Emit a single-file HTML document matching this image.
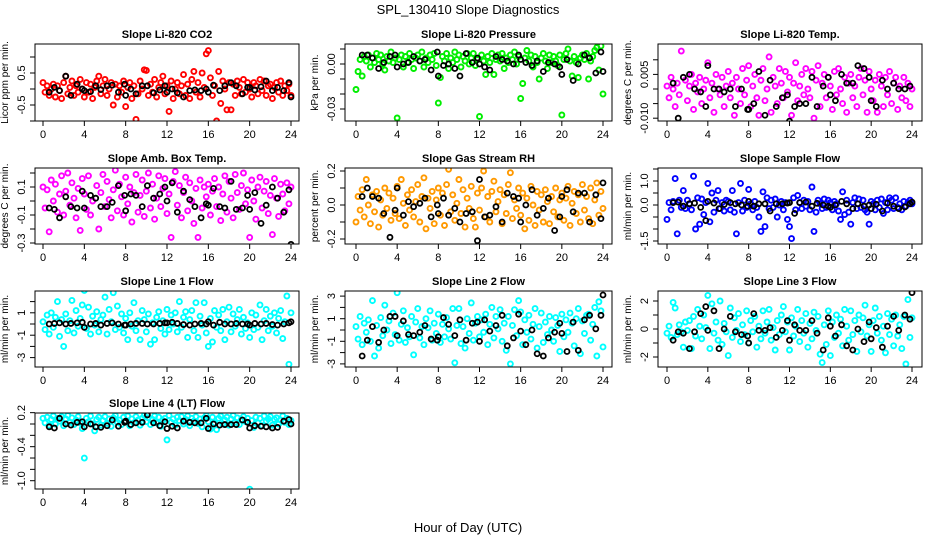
<!DOCTYPE html>
<html><head><meta charset="utf-8">
<style>
html,body{margin:0;padding:0;background:#fff;}
svg{display:block;font-family:"Liberation Sans",sans-serif;}
</style></head>
<body>
<svg id="chart" width="936" height="540" viewBox="0 0 936 540" xmlns="http://www.w3.org/2000/svg">
<rect x="0" y="0" width="936" height="540" fill="#fff"/>
<text x="468" y="14" text-anchor="middle" font-size="13">SPL_130410  Slope Diagnostics</text>
<text x="468" y="532" text-anchor="middle" font-size="13">Hour of Day (UTC)</text>
</svg>
<script>
const hours = [0,0.2,0.4,0.6,0.8,1,1.2,1.4,1.6,1.8,2,2.2,2.4,2.6,2.8,3,3.2,3.4,3.6,3.8,4,4.2,4.4,4.6,4.8,5,5.2,5.4,5.6,5.8,6,6.2,6.4,6.6,6.8,7,7.2,7.4,7.6,7.8,8,8.2,8.4,8.6,8.8,9,9.2,9.4,9.6,9.8,10,10.2,10.4,10.6,10.8,11,11.2,11.4,11.6,11.8,12,12.2,12.4,12.6,12.8,13,13.2,13.4,13.6,13.8,14,14.2,14.4,14.6,14.8,15,15.2,15.4,15.6,15.8,16,16.2,16.4,16.6,16.8,17,17.2,17.4,17.6,17.8,18,18.2,18.4,18.6,18.8,19,19.2,19.4,19.6,19.8,20,20.2,20.4,20.6,20.8,21,21.2,21.4,21.6,21.8,22,22.2,22.4,22.6,22.8,23,23.2,23.4,23.6,23.8,24];
const blackHours = [0.6,1.1,1.6,2.2,2.7,3.3,3.8,4.0,4.6,5.1,5.6,6.2,6.7,7.3,7.9,8.0,8.5,9.0,9.6,10.1,10.7,11.3,11.8,12.0,12.5,13.0,13.6,14.2,14.7,15.3,15.8,16.0,16.5,17.1,17.6,18.2,18.7,19.3,19.8,20.0,20.5,21.1,21.6,22.2,22.7,23.3,23.8,24.0];
const xTicks = [0,4,8,12,16,20,24];

const co2 = [0.2,-0.1,0.1,-0.2,0.0,0.15,-0.25,0.1,-0.05,-0.3, 0.2,0.4,-0.15,0.05,0.25,-0.2,0.1,-0.1,0.3,0.0, -0.25,0.2,-0.1,0.15,-0.3,0.05,0.25,0.4,-0.15,0.1, 0.3,-0.2,0.0,0.2,-0.5,0.15,-0.25,0.1,-0.1,0.25, -0.55,0.05,0.2,-0.3,0.1,-0.95,-0.15,0.25,0.0,0.6, 0.58,-0.2,0.15,-0.1,0.3,-0.25,0.05,0.2,0.4,-0.15, 0.1,-0.7,0.25,-0.3,0.0,0.2,-0.15,0.1,0.45,-0.2, 0.15,-0.3,0.3,0.55,-0.1,0.2,-0.25,0.5,0.05,1.1, 1.2,0.35,-0.2,0.1,-1.0,0.55,-0.45,0.25,0.0,-0.65, 0.2,-0.65,0.15,-0.2,0.25,0.05,-0.15,0.3,-0.1,0.2, 0.0,-0.25,0.2,0.1,-0.15,0.3,-0.05,0.25,-0.2,0.1, 0.15,-0.3,0.05,0.2,-0.1,0.25,-0.2,0.1,-0.05,0.15,-0.2];
const co2Black = [-0.1,0.05,-0.05,0.4,-0.2,0.15,0.0,-0.05,-0.08,0.1,-0.02,0.1,0.12,-0.1,0.15,-0.2,0.0,-0.15,0.1,0.1,-0.12,-0.03,0.1,-0.1,0.0,-0.12,-0.25,-0.05,-0.03,-0.05,0.0,-0.1,0.12,-0.05,0.1,0.2,0.1,-0.15,0.05,0.05,-0.03,0.07,0.25,-0.05,0.05,-0.05,0.2,-0.25];

const pres = [-0.017,-0.005,0.003,-0.008,0.005,0.002,0.006,-0.002,0.004,0.001, 0.007,0.003,0.006,0.0,-0.004,0.005,0.002,0.008,0.001,0.004, -0.036,0.003,0.006,-0.002,0.005,0.001,0.007,0.003,-0.003,0.004, 0.006,0.002,0.008,-0.002,0.004,0.001,0.006,0.003,0.007,-0.001, -0.026,-0.009,0.005,0.002,0.007,-0.003,0.004,0.001,0.008,0.003, 0.006,-0.002,0.005,0.002,0.007,0.0,0.004,0.007,-0.001,0.003, -0.035,0.006,0.002,-0.007,0.005,0.001,0.007,-0.007,0.003,0.006, 0.002,0.007,-0.003,0.004,0.001,0.006,0.003,0.008,0.0,0.005, -0.023,-0.013,0.004,0.009,0.002,0.006,-0.002,0.005,0.001,-0.01, 0.004,0.007,0.002,-0.003,0.006,0.001,0.005,0.002,-0.001,0.006, -0.034,0.003,0.007,0.01,0.002,-0.008,0.005,0.001,-0.009,0.004, 0.006,0.003,0.007,-0.01,0.002,0.005,0.009,0.011,-0.004,0.012,-0.02];
const presBlack = [0.006,0.006,0.004,-0.003,0.001,0.005,0.006,-0.002,0.0,0.001,0.005,0.002,0.003,-0.004,0.008,-0.008,-0.001,0.0,-0.003,-0.008,0.007,0.001,0.004,0.0,-0.002,-0.004,0.005,0.003,0.002,0.0,0.006,0.003,0.001,-0.001,0.002,-0.005,0.001,0.0,-0.002,-0.007,0.003,-0.011,0.0,0.006,0.004,-0.006,0.008,-0.005];

const tmp = [0.001,-0.003,0.004,0.0,-0.006,0.002,-0.002,0.013,-0.012,0.003, -0.004,0.001,0.005,-0.007,0.002,-0.001,0.004,-0.005,0.0,0.003, 0.009,-0.003,0.002,-0.008,0.005,0.0,-0.002,0.004,-0.006,0.001, 0.006,-0.003,0.002,-0.009,0.004,0.0,-0.005,0.007,-0.002,0.003, 0.008,-0.006,0.001,0.005,-0.003,-0.009,0.003,0.007,-0.004,0.0, 0.011,-0.008,0.004,0.001,-0.005,0.007,0.002,-0.003,0.006,-0.001, 0.004,-0.009,0.002,0.009,-0.004,0.001,0.005,-0.002,0.007,0.0, -0.003,0.006,-0.01,0.003,0.008,-0.006,0.002,0.005,-0.003,0.004, 0.001,-0.007,0.006,-0.002,0.007,0.0,-0.005,0.004,-0.008,0.002, 0.005,-0.003,0.001,-0.006,0.004,0.007,-0.002,0.003,-0.008,0.006, 0.0,-0.004,0.003,-0.008,0.005,0.001,-0.006,0.004,-0.002,0.006, -0.005,0.002,0.004,-0.007,0.001,-0.003,0.004,-0.004,0.002,-0.006,0.0];
const tmpBlack = [0.002,-0.01,0.004,0.005,0.0,-0.001,-0.006,0.008,0.0,0.0,-0.001,0.0,-0.006,0.0,-0.007,-0.007,-0.005,0.006,-0.009,0.003,-0.006,-0.003,-0.002,-0.011,-0.006,-0.005,-0.005,0.004,-0.006,0.001,0.004,-0.002,-0.004,0.005,0.002,0.002,0.008,0.007,0.004,-0.004,-0.006,0.003,0.0,0.002,0.0,0.0,0.001,-0.012];

const box = [0.1,-0.05,0.08,-0.22,0.15,0.0,0.12,-0.08,0.05,0.18, -0.1,0.07,0.2,-0.03,0.13,0.02,-0.12,0.09,-0.21,0.16, 0.05,-0.06,0.18,-0.1,0.0,-0.33,0.11,-0.2,0.06,0.19, -0.04,0.14,0.01,-0.12,0.08,0.22,-0.07,0.12,0.03,-0.1, 0.17,-0.02,0.1,-0.15,0.06,0.19,-0.08,0.04,0.15,-0.11, 0.07,0.2,-0.05,0.12,-0.13,0.02,0.18,-0.04,0.09,0.16, -0.09,0.05,-0.26,0.14,0.21,-0.03,0.11,-0.12,0.06,0.17, -0.07,0.13,0.0,-0.16,0.09,-0.26,0.15,-0.05,0.1,0.03, 0.12,-0.1,0.07,0.16,-0.04,0.1,-0.14,0.05,0.18,-0.08, 0.14,0.02,-0.12,0.19,0.06,-0.06,0.11,0.2,-0.02,0.08, -0.26,0.15,0.0,-0.13,0.1,0.17,-0.05,0.07,0.14,-0.09, 0.04,-0.24,0.16,0.02,-0.11,0.12,0.05,-0.07,0.13,-0.02,0.1];
const boxBlack = [-0.05,-0.06,-0.12,0.03,-0.04,-0.05,0.07,-0.05,0.04,0.02,-0.04,-0.04,-0.01,0.11,0.04,-0.07,0.05,0.04,-0.04,0.11,0.02,0.05,0.1,0.0,0.13,-0.08,0.07,0.01,-0.04,-0.12,-0.02,-0.03,0.09,-0.04,-0.05,0.14,-0.06,-0.05,0.04,-0.06,0.06,-0.16,-0.03,0.1,0.02,-0.08,0.08,-0.31];

const rh = [-0.1,0.05,-0.03,0.09,-0.07,0.15,0.0,-0.11,0.06,-0.04, 0.08,-0.13,0.03,-0.06,0.1,-0.02,0.07,-0.09,0.04,-0.05, 0.11,-0.08,0.15,0.01,-0.12,0.06,-0.03,0.09,-0.07,0.02, 0.12,-0.1,0.05,0.16,-0.14,0.04,-0.02,0.08,-0.11,0.03, 0.1,-0.06,0.07,-0.12,0.12,0.21,-0.04,0.06,-0.09,0.01, 0.15,-0.05,0.09,-0.13,0.04,-0.02,0.11,-0.08,-0.13,0.07, -0.03,0.1,0.2,-0.07,0.05,-0.1,0.08,0.14,-0.04,0.02, 0.09,-0.11,0.06,-0.05,0.12,0.19,-0.08,0.03,-0.02,0.1, -0.06,0.07,-0.14,0.04,-0.09,0.11,0.0,-0.12,0.08,-0.03, 0.06,-0.1,0.09,0.02,-0.11,0.05,-0.04,0.1,-0.07,0.03, 0.07,-0.09,0.04,0.11,-0.12,0.01,0.08,-0.05,0.06,-0.1, 0.12,-0.03,0.05,-0.08,0.1,-0.11,0.03,0.13,-0.06,0.08,-0.02];
const rhBlack = [0.05,0.1,0.05,0.04,-0.05,-0.19,-0.03,0.1,-0.06,0.02,-0.01,0.01,0.04,-0.07,0.0,-0.05,0.04,-0.06,-0.02,-0.1,-0.05,-0.04,-0.21,0.15,-0.07,-0.06,-0.01,-0.1,0.07,0.05,0.04,-0.1,0.0,0.09,-0.06,-0.02,0.04,-0.15,-0.07,0.05,0.09,-0.04,0.07,0.07,-0.1,0.06,-0.08,0.13];

const samp = [-0.6,0.1,-0.2,0.15,1.1,-1.2,0.2,-0.1,0.6,-0.15, 0.2,0.05,-0.2,1.2,-1.0,0.3,-0.8,0.25,-0.4,0.1, 0.9,-0.7,0.5,-0.3,0.2,0.6,-0.15,0.1,-0.25,0.2, 0.15,-0.2,0.6,-0.3,-1.2,0.1,0.9,-0.25,0.2,-0.1, 0.65,0.05,-0.2,0.15,-0.1,-0.5,-1.1,0.55,-0.9,0.3, -0.15,0.2,-0.1,0.25,-0.5,0.0,0.15,-0.2,0.1,-0.6, -0.9,-1.4,0.3,-0.2,0.4,0.1,-0.15,0.2,-0.05,0.15, -0.2,0.75,-1.1,-0.3,0.2,0.05,-0.15,0.25,-0.1,0.2, 0.1,-0.2,0.15,0.05,-0.25,-0.6,0.55,-0.4,0.2,-0.3, -0.8,0.1,0.3,-0.15,0.25,-0.1,0.2,-0.2,-0.3,-0.8, 0.15,0.05,-0.2,0.2,-0.1,0.25,-0.35,0.1,-0.2,0.3, 0.2,-0.15,0.3,-0.1,0.05,-0.2,0.15,-0.05,0.1,0.2,0.05];
const sampBlack = [0.1,0.12,-0.05,0.05,0.08,-0.1,-0.65,0.15,0.08,-0.15,0.02,0.1,0.05,0.0,-0.05,0.15,-0.05,0.05,0.05,-0.25,0.05,0.05,0.08,0.1,-0.35,0.1,0.12,-0.05,0.07,0.0,-0.05,-0.1,0.0,0.15,0.05,-0.15,0.05,-0.05,0.0,-0.15,0.03,-0.25,0.08,-0.05,-0.15,-0.08,0.05,0.12];

const line1 = [0.2,-0.5,0.8,-0.9,1.0,-0.3,0.6,2.0,-1.1,0.4, -2.0,0.9,-0.6,0.3,2.1,-0.8,1.2,-0.2,0.5,1.7, 3.0,-0.4,1.5,-0.9,0.7,-0.1,1.1,-0.7,0.4,0.8, 2.4,-0.9,1.3,0.2,2.8,-0.5,1.6,-0.3,0.9,-0.8, 0.5,-1.4,1.0,-0.2,1.9,-0.6,0.3,-1.4,1.2,0.4, -0.7,0.9,-1.8,0.1,-1.4,0.6,1.1,-0.4,0.3,-0.9, 1.3,-0.5,0.8,0.0,1.0,-0.7,2.0,-0.3,0.6,1.1, -1.2,0.4,1.2,-0.6,1.9,-1.2,0.7,-0.1,1.9,-0.8, -2.0,0.5,-1.6,1.2,-0.3,0.8,-0.6,1.3,-1.4,0.2, 1.5,-0.7,0.9,-0.2,0.4,1.3,-0.9,0.6,-0.4,0.1, -1.2,1.0,-0.5,0.8,-0.3,1.7,-1.4,0.3,1.3,-0.6, 0.7,-0.2,1.0,-0.8,0.5,1.2,-1.3,0.2,2.5,-3.6,1.0];
const line1Black = [0.0,0.05,0.1,0.0,0.05,0.1,0.15,-0.3,0.0,0.05,-0.1,0.05,0.1,0.0,-0.1,-0.1,0.0,0.05,0.05,0.0,0.0,0.05,0.1,0.1,0.15,0.05,-0.05,-0.1,0.0,0.05,0.0,0.2,-0.1,0.15,0.0,0.0,0.05,0.0,0.0,-0.1,0.05,0.0,0.05,-0.05,-0.1,0.0,0.1,0.2];

const line2 = [0.3,-0.8,1.2,-1.3,0.6,-0.2,0.9,-1.0,2.6,-2.3, 0.4,-1.6,1.1,-0.5,2.2,0.0,0.8,-1.2,1.5,-0.4, 3.3,-0.9,0.5,1.7,-1.1,0.2,-0.6,1.2,-2.2,0.7, 1.9,-0.7,0.3,-1.3,1.0,0.2,1.7,-0.9,0.6,-0.3, 1.4,-1.1,0.5,-0.6,1.1,0.1,-0.8,1.9,-2.9,0.4, 1.9,-1.2,0.3,-1.6,1.0,-0.3,2.4,-0.9,0.6,1.2, -0.6,0.9,-0.2,1.4,-1.3,0.5,2.0,-0.7,1.2,0.1, 1.8,-1.0,0.6,-1.8,1.2,-3.0,0.4,1.8,-0.5,2.6, 1.6,-1.3,0.9,-0.2,1.3,-0.8,0.5,1.9,-1.6,0.3, 1.5,-1.1,0.7,-0.4,1.2,0.0,-1.0,1.1,0.4,-1.9, 1.4,-0.6,0.9,-0.2,1.5,0.6,-1.4,1.0,1.9,-2.1, 0.8,-0.3,1.3,1.4,-0.9,0.5,2.0,-2.3,2.5,1.7,-1.5];
const line2Black = [-2.3,-0.9,0.3,-1.1,0.0,1.2,1.2,-0.5,0.8,-0.4,-0.5,-0.2,0.4,-0.8,-0.9,-0.6,1.1,0.5,-0.5,0.9,-0.9,0.6,0.7,-1.0,0.9,-0.1,0.4,1.3,-1.4,-0.7,1.4,-0.1,-1.3,0.0,-2.1,-2.3,-0.7,-0.2,0.6,-0.3,-1.9,0.7,-1.8,0.9,1.3,0.1,1.3,3.1];

const line3 = [-0.3,0.2,-0.6,1.9,1.5,-0.4,0.3,-0.2,-1.3,0.5, -0.1,0.6,-1.4,0.9,-0.5,1.4,0.2,-0.7,1.0,0.1, 2.4,-1.4,1.8,-0.3,0.5,-0.8,2.0,-1.1,0.4,-0.2, -1.9,1.5,-0.6,0.8,-0.1,1.1,-0.9,0.3,-0.4,1.3, -1.0,0.6,-0.2,0.9,-1.3,0.2,-0.7,1.3,-0.3,0.5, 1.4,-0.8,0.1,-1.5,0.6,-0.4,1.0,1.6,-0.2,0.5, -1.5,0.8,-0.5,0.2,1.4,-0.9,0.6,-0.3,1.1,-1.3, 0.4,-0.7,1.2,-0.1,0.9,-1.8,-2.4,0.3,-1.1,1.3, -1.9,0.5,-0.6,1.0,-0.3,0.7,-1.2,1.4,0.2,-0.8, 1.3,-0.4,0.6,-1.6,1.0,-0.2,0.8,1.7,-0.5,0.3, -1.6,0.6,1.5,-0.3,0.9,-0.8,0.2,-1.7,1.1,-0.4, 0.7,-1.2,1.0,-0.5,0.3,-1.4,0.9,-2.5,2.1,-0.6,0.8];
const line3Black = [-0.8,-0.2,-0.3,-1.4,-0.2,1.1,1.6,-0.1,1.3,-1.4,0.0,0.9,-0.2,-0.4,-0.5,-1.0,1.1,-0.1,-0.1,0.1,-0.6,-0.1,0.6,-0.8,0.3,-0.1,-0.1,0.6,-0.3,-1.5,0.8,0.2,-0.5,0.3,-1.2,-1.5,0.0,-0.9,0.5,-0.7,0.1,-1.3,0.2,0.9,-0.1,1.0,0.7,2.6];

const line4 = [0.1,0.02,0.12,-0.02,0.08,0.14,0.0,0.1,0.05,0.13, -0.03,0.09,0.15,0.03,0.11,-0.01,0.07,0.13,0.02,-0.08, -0.6,0.1,0.04,0.14,0.0,-0.12,0.08,0.12,-0.02,0.06, 0.13,0.01,0.09,-0.04,0.11,0.15,0.03,0.07,-0.01,0.12, 0.05,0.14,-0.03,0.09,0.02,0.13,0.07,-0.02,0.1,0.15, 0.04,0.11,-0.01,0.08,0.14,0.02,0.12,-0.04,0.06,0.1, -0.28,0.15,0.03,0.09,-0.02,0.12,0.06,0.13,0.0,0.08, 0.14,-0.03,0.1,0.05,0.13,0.01,0.09,-0.05,0.11,0.15, 0.04,-0.09,0.12,0.02,-0.1,0.1,0.14,0.0,0.07,0.12, -0.02,0.09,0.15,0.03,0.11,-0.01,0.08,0.13,0.04,0.1, -1.15,0.06,-0.06,0.12,0.02,0.1,-0.03,0.14,0.05,0.09, 0.13,-0.02,0.08,0.11,0.0,0.07,0.14,0.03,0.1,-0.01,0.06];
const line4Black = [-0.05,-0.07,0.1,0.0,-0.02,0.03,0.04,-0.05,0.0,-0.05,-0.06,-0.03,0.07,-0.04,0.03,0.05,-0.01,0.02,0.03,0.16,0.02,-0.03,0.04,-0.08,-0.04,-0.07,0.05,0.03,0.02,0.02,0.1,-0.08,0.0,-0.02,-0.01,-0.01,-0.01,0.07,0.03,-0.07,-0.03,-0.04,-0.05,-0.07,-0.06,0.05,0.08,0.0];

const titles = ["Slope Li-820 CO2","Slope Li-820 Pressure","Slope Li-820 Temp.","Slope Amb. Box Temp.","Slope Gas Stream RH","Slope Sample Flow","Slope Line 1 Flow","Slope Line 2 Flow","Slope Line 3 Flow","Slope Line 4 (LT) Flow"];
const yTitles = ["Licor ppm per min.","kPa per min.","degrees C per min.","degrees C per min.","percent per min.","ml/min per min.","ml/min per min.","ml/min per min.","ml/min per min.","ml/min per min."];
const yTickVals = [[1,0.5,0,-0.5,-1],[0.01,0,-0.01,-0.02,-0.03],[0.01,0.005,0,-0.005,-0.01],[0.2,0.1,0,-0.1,-0.2,-0.3],[0.2,0.1,0,-0.1,-0.2],[1.5,1,0.5,0,-0.5,-1,-1.5],[2,1,0,-1,-2,-3],[3,2,1,0,-1,-2,-3],[2,1,0,-1,-2],[0.2,0,-0.2,-0.4,-0.6,-0.8,-1.0]];
const yTickLabels = [["","0.5","","-0.5",""],["","0.00","","","-0.03"],["","0.005","","","-0.010"],["","0.1","","-0.1","","-0.3"],["0.2","","0.0","","-0.2"],["","1.0","","0.0","","","-1.5"],["","1","","-1","","-3"],["3","","1","","-1","","-3"],["2","","0","","-2"],["0.2","","","-0.4","","","-1.0"]];
const seriesList = [co2,pres,tmp,box,rh,samp,line1,line2,line3,line4];
const blackList = [co2Black,presBlack,tmpBlack,boxBlack,rhBlack,sampBlack,line1Black,line2Black,line3Black,line4Black];
const colors = ["#ff0000","#00ee00","#ff00ff","#ff00ff","#ff9900","#0000ff","#00ffff","#00ffff","#00ffff","#00ffff"];
const names = ["co2","pressure","li820-temp","box-temp","gas-rh","sample-flow","line1-flow","line2-flow","line3-flow","line4-flow"];

const colGeom = [{l:35,r:299,x0:43,x24:291},{l:345,r:612,x0:356,x24:603},{l:658,r:922,x0:667,x24:912}];
const rowGeom = [{t:44,b:121},{t:168,b:244},{t:291,b:367},{t:413,b:489}];
const yScale = [{z:89,k:32},{z:64,k:1500},{z:89,k:2920},{z:201,k:140},{z:205,k:170},{z:205,k:24},{z:324,k:11.2},{z:330,k:11.3},{z:329,k:14},{z:424,k:56.7}];

const NS = "http://www.w3.org/2000/svg";
const svg = document.getElementById("chart");
function mk(tag, attrs, parent){const e=document.createElementNS(NS,tag);for(const k in attrs)e.setAttribute(k,attrs[k]);(parent||svg).appendChild(e);return e;}

for (let p=0;p<10;p++){
  const c = colGeom[p%3], r = rowGeom[Math.floor(p/3)], ys = yScale[p];
  const xf = h => c.x0 + (c.x24-c.x0)*h/24;
  const yf = v => ys.z - v*ys.k;
  const g = mk("g",{});
  
  
  const clipId = "clip"+p;
  const cp = mk("clipPath",{id:clipId},g);
  mk("rect",{x:c.l,y:r.t,width:c.r-c.l,height:r.b-r.t},cp);
  const t = mk("text",{x:(c.l+c.r)/2,y:r.t-6,"text-anchor":"middle","font-size":"11","font-weight":"bold"},g);
  t.textContent = titles[p];
  
  
  const pg = mk("g",{"clip-path":"url(#"+clipId+")"},g);
  const ser = seriesList[p];
  for (let i=0;i<ser.length;i++){
    const pt = mk("circle",{cx:xf(hours[i]),cy:yf(ser[i]),r:2.5,fill:"none",stroke:colors[p],"stroke-width":1.9},pg);
    
    
  }
  const bl = blackList[p];
  for (let i=0;i<bl.length;i++){
    const pt = mk("circle",{cx:xf(blackHours[i]),cy:yf(bl[i]),r:2.5,fill:"none",stroke:"#000","stroke-width":1.8},pg);
    
    
  }
  const bx = mk("rect",{x:c.l,y:r.t,width:c.r-c.l,height:r.b-r.t,fill:"none",stroke:"#000","stroke-width":1},g);
  
  
  mk("line",{x1:xf(0),x2:xf(24),y1:r.b,y2:r.b,stroke:"#000"},g);
  for (const h of xTicks){
    mk("line",{x1:xf(h),x2:xf(h),y1:r.b,y2:r.b+5,stroke:"#000"},g);
    const lt = mk("text",{x:xf(h),y:r.b+17,"text-anchor":"middle","font-size":"11"},g);
    lt.textContent = String(h);
    
    
  }
  const tv = yTickVals[p], tl = yTickLabels[p];
  for (let i=0;i<tv.length;i++){
    const y = yf(tv[i]);
    mk("line",{x1:c.l-5,x2:c.l,y1:y,y2:y,stroke:"#000"},g);
    if (tl[i]){
      const yt = mk("text",{x:c.l-10,y:y,"text-anchor":"middle","font-size":"11",transform:"rotate(-90 "+(c.l-10)+" "+y+")"},g);
      yt.textContent = tl[i];
      
      
    }
  }
  mk("line",{x1:c.l,x2:c.l,y1:yf(tv[0]),y2:yf(tv[tv.length-1]),stroke:"#000"},g);
  const yc = (r.t+r.b)/2;
  const ytl = mk("text",{x:c.l-27,y:yc,"text-anchor":"middle","font-size":"10",transform:"rotate(-90 "+(c.l-27)+" "+yc+")"},g);
  ytl.textContent = yTitles[p];
  
  
}
</script>
</body></html>
